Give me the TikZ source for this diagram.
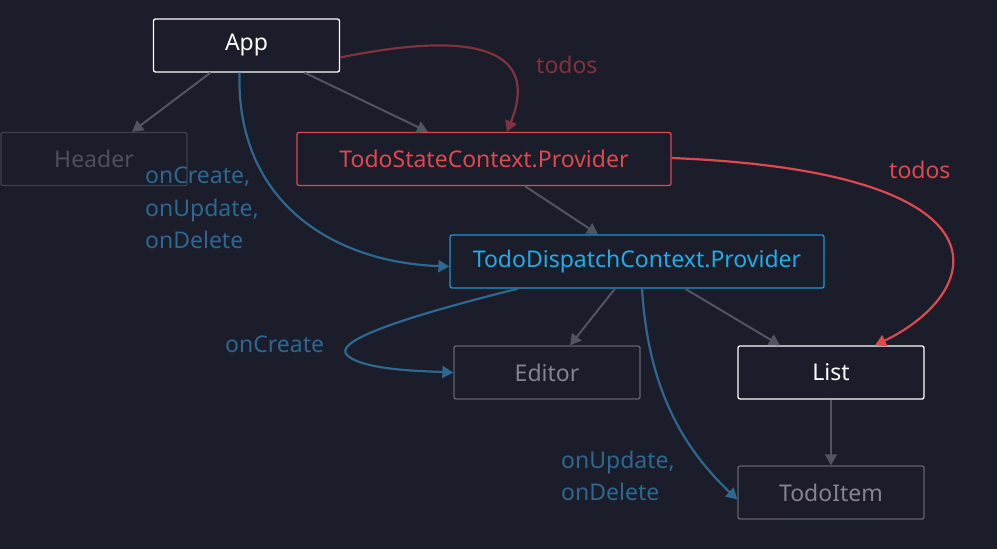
\documentclass[tikz,border=0pt]{standalone}
\usepackage{fontspec}
\setmainfont{Noto Sans}
\usetikzlibrary{arrows.meta}
\definecolor{bg}{RGB}{28,29,42}
\definecolor{edgegray}{RGB}{82,84,97}
\definecolor{dimborder}{RGB}{62,64,78}
\definecolor{dimtext}{RGB}{78,80,94}
\definecolor{midborder}{RGB}{98,99,110}
\definecolor{midtext}{RGB}{132,133,143}
\definecolor{redmain}{RGB}{222,72,78}
\definecolor{reddark}{RGB}{128,50,62}
\definecolor{bluebright}{RGB}{32,172,232}
\definecolor{blueborder}{RGB}{28,150,210}
\definecolor{bluedim}{RGB}{44,104,144}
\begin{document}
\begin{tikzpicture}[x=1pt,y=-1pt,
  box/.style={draw, rounded corners=2pt, line width=1.3pt, minimum width=186pt, minimum height=53pt, inner sep=0pt, font=\fontsize{23}{27}\selectfont, fill=bg},
  wide/.style={box, minimum width=374pt},
  grayedge/.style={draw=edgegray, line width=2pt, -{Triangle[length=11pt,width=12pt]}},
  redge/.style={line width=2.2pt, -{Triangle[length=11pt,width=12pt]}},
  lbl/.style={font=\fontsize{23}{32.5}\selectfont, align=left, inner sep=0pt, anchor=west}
]
\fill[bg] (0,0) rectangle (997,549);
\useasboundingbox (0,0) rectangle (997,549);

\node[box, draw=white, text=white] (app) at (246.5,45.5) {App};
\node[box, draw=dimborder, text=dimtext] (header) at (94,159) {Header};
\node[wide, draw=redmain, text=redmain] (tsp) at (484,159) {TodoStateContext.Provider};
\node[wide, draw=blueborder, text=bluebright] (tdp) at (637,261.5) {TodoDispatchContext.Provider};
\node[box, draw=midborder, text=midtext] (editor) at (547,372.5) {Editor};
\node[box, draw=white, text=white] (list) at (831,372.5) {List};
\node[box, draw=midborder, text=midtext] (item) at (831,492.5) {TodoItem};

% gray hierarchy edges
\draw[grayedge] ([xshift=-36pt]app.south) -- ([xshift=38pt]header.north);
\draw[grayedge] ([xshift=58pt]app.south) -- ([xshift=-56pt]tsp.north);
\draw[grayedge] ([xshift=41pt]tsp.south) -- ([xshift=-39pt]tdp.north);
\draw[grayedge] ([xshift=-22pt]tdp.south) -- ([xshift=23pt]editor.north);
\draw[grayedge] ([xshift=48pt]tdp.south) -- ([xshift=-51pt]list.north);
\draw[grayedge] (list.south) -- (item.north);

% red data edges
\draw[redge, draw=reddark, fill=none] ([yshift=-12pt]app.east) .. controls (500,25) and (535,62) .. ([xshift=23pt]tsp.north);
\node[lbl, text=reddark] (todos1) at (536,65) {todos};
\draw[redge, draw=redmain] ([yshift=1pt]tsp.east) .. controls (1020,172) and (985,292) .. ([xshift=44pt]list.north);
\node[lbl, text=redmain] (todos2) at (889,170) {todos};

% blue callback edges
\draw[redge, draw=bluedim] ([xshift=-7pt]app.south) .. controls (236,200) and (330,262) .. ([yshift=-5pt]tdp.west);
\node[lbl, text=bluedim] (cb1) at (145,208) {onCreate,\\onUpdate,\\onDelete};
\draw[redge, draw=bluedim] ([xshift=-119pt]tdp.south) .. controls (400,318) and (330,342) .. (348,356) .. controls (365,370) and (420,371) .. (editor.west);
\node[lbl, text=bluedim] (cb2) at (225,344) {onCreate};
\draw[redge, draw=bluedim] ([xshift=5pt]tdp.south) .. controls (648,385) and (680,445) .. ([yshift=-7pt]item.west);
\node[lbl, text=bluedim] (cb3) at (561,476) {onUpdate,\\onDelete};
\end{tikzpicture}
\end{document}
